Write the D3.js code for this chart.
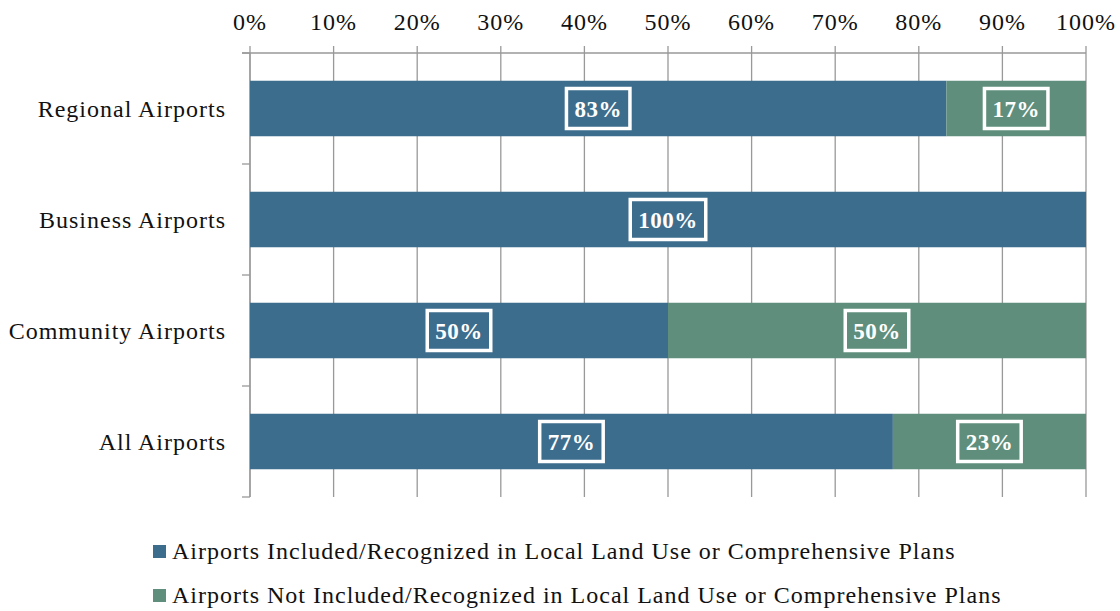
<!DOCTYPE html>
<html>
<head>
<meta charset="utf-8">
<script src="https://cdn.jsdelivr.net/npm/d3@7"></script>
<style>
  body { margin: 0; background: #fff; }
  text { font-family: "Liberation Serif", "DejaVu Serif", serif; }
</style>
</head>
<body>
<div class="d3chart"></div>
<script>
var width = 1120,
    height = 611;

// data
var categories = ["Regional Airports", "Business Airports", "Community Airports", "All Airports"];
var included = [83.3, 100, 50, 76.9];
var notIncluded = [16.7, 0, 50, 23.1];
var seriesNames = ["Airports Included/Recognized in Local Land Use or Comprehensive Plans",
                   "Airports Not Included/Recognized in Local Land Use or Comprehensive Plans"];
var tickValues = [0, 10, 20, 30, 40, 50, 60, 70, 80, 90, 100];

var colors = ["#3d6d8d", "#5f8f7c"];

var svg = d3.select(".d3chart").append("svg")
    .attr("width", width)
    .attr("height", height);

var x = d3.scaleLinear().domain([0, 100]).range([250, 1086]);
var y = d3.scaleBand().domain(categories).range([53, 497]).paddingInner(0.5).paddingOuter(0.25);

// gridlines
svg.append("g")
    .selectAll("line")
    .data(tickValues)
    .enter().append("line")
    .attr("x1", d => x(d)).attr("x2", d => x(d))
    .attr("y1", 46).attr("y2", 497)
    .attr("stroke", "#999").attr("stroke-width", 1.3);

// top axis line
svg.append("line")
    .attr("x1", 242).attr("x2", 1086)
    .attr("y1", 53).attr("y2", 53)
    .attr("stroke", "#999").attr("stroke-width", 1.3);

// left axis + ticks
svg.append("line")
    .attr("x1", 250).attr("x2", 250)
    .attr("y1", 53).attr("y2", 497)
    .attr("stroke", "#999").attr("stroke-width", 1.3);
var catTicks = [53].concat(categories.map(c => y(c) + y.bandwidth() + y.step() * y.paddingInner() / 2));
svg.append("g")
    .selectAll("line")
    .data(catTicks)
    .enter().append("line")
    .attr("x1", 242).attr("x2", 250)
    .attr("y1", d => d).attr("y2", d => d)
    .attr("stroke", "#999").attr("stroke-width", 1.3);

// tick labels
svg.append("g")
    .selectAll("text")
    .data(tickValues)
    .enter().append("text")
    .attr("x", d => x(d))
    .attr("y", 30)
    .attr("text-anchor", "middle")
    .attr("font-size", "24px")
    .attr("letter-spacing", "1px")
    .attr("fill", "#111")
    .text(d => d + "%");

// category labels
svg.append("g")
    .selectAll("text")
    .data(categories)
    .enter().append("text")
    .attr("x", 226)
    .attr("y", d => y(d) + y.bandwidth() / 2 + 8)
    .attr("text-anchor", "end")
    .attr("font-size", "24px")
    .attr("letter-spacing", "1px")
    .attr("fill", "#111")
    .text(d => d);

// bars
var rows = categories.map((c, i) => ({cat: c, segs: [
    {s: 0, x0: 0, x1: included[i], v: included[i]},
    {s: 1, x0: included[i], x1: included[i] + notIncluded[i], v: notIncluded[i]}
]}));

var segs = [];
rows.forEach(r => r.segs.forEach(s => { if (s.v > 0) segs.push(Object.assign({cat: r.cat}, s)); }));

svg.append("g")
    .selectAll("rect")
    .data(segs)
    .enter().append("rect")
    .attr("x", d => x(d.x0))
    .attr("y", d => y(d.cat))
    .attr("width", d => x(d.x1) - x(d.x0))
    .attr("height", y.bandwidth())
    .attr("fill", d => colors[d.s]);

// value labels with boxes
var lab = svg.append("g")
    .selectAll("g")
    .data(segs)
    .enter().append("g")
    .attr("transform", d => "translate(" + x((d.x0 + d.x1) / 2) + "," + (y(d.cat) + y.bandwidth() / 2) + ")");

lab.append("text")
    .attr("text-anchor", "middle")
    .attr("y", 8)
    .attr("font-size", "23px")
    .attr("font-weight", "bold")
    .attr("letter-spacing", "0.5px")
    .attr("fill", "#fff")
    .text(d => Math.round(d.v) + "%");

lab.each(function() {
    var g = d3.select(this);
    var bb = g.select("text").node().getBBox();
    g.insert("rect", "text")
        .attr("x", bb.x - 8)
        .attr("y", -20)
        .attr("width", bb.width + 16)
        .attr("height", 40)
        .attr("fill", "none")
        .attr("stroke", "#fff")
        .attr("stroke-width", 3.5);
});

// legend
var leg = svg.append("g")
    .selectAll("g")
    .data(seriesNames)
    .enter().append("g")
    .attr("transform", (d, i) => "translate(153," + (545 + i * 44) + ")");

leg.append("rect")
    .attr("width", 13).attr("height", 13)
    .attr("fill", (d, i) => colors[i]);

leg.append("text")
    .attr("x", 19)
    .attr("y", 14)
    .attr("font-size", "24px")
    .attr("letter-spacing", "1px")
    .attr("fill", "#111")
    .text(d => d);
</script>
</body>
</html>
